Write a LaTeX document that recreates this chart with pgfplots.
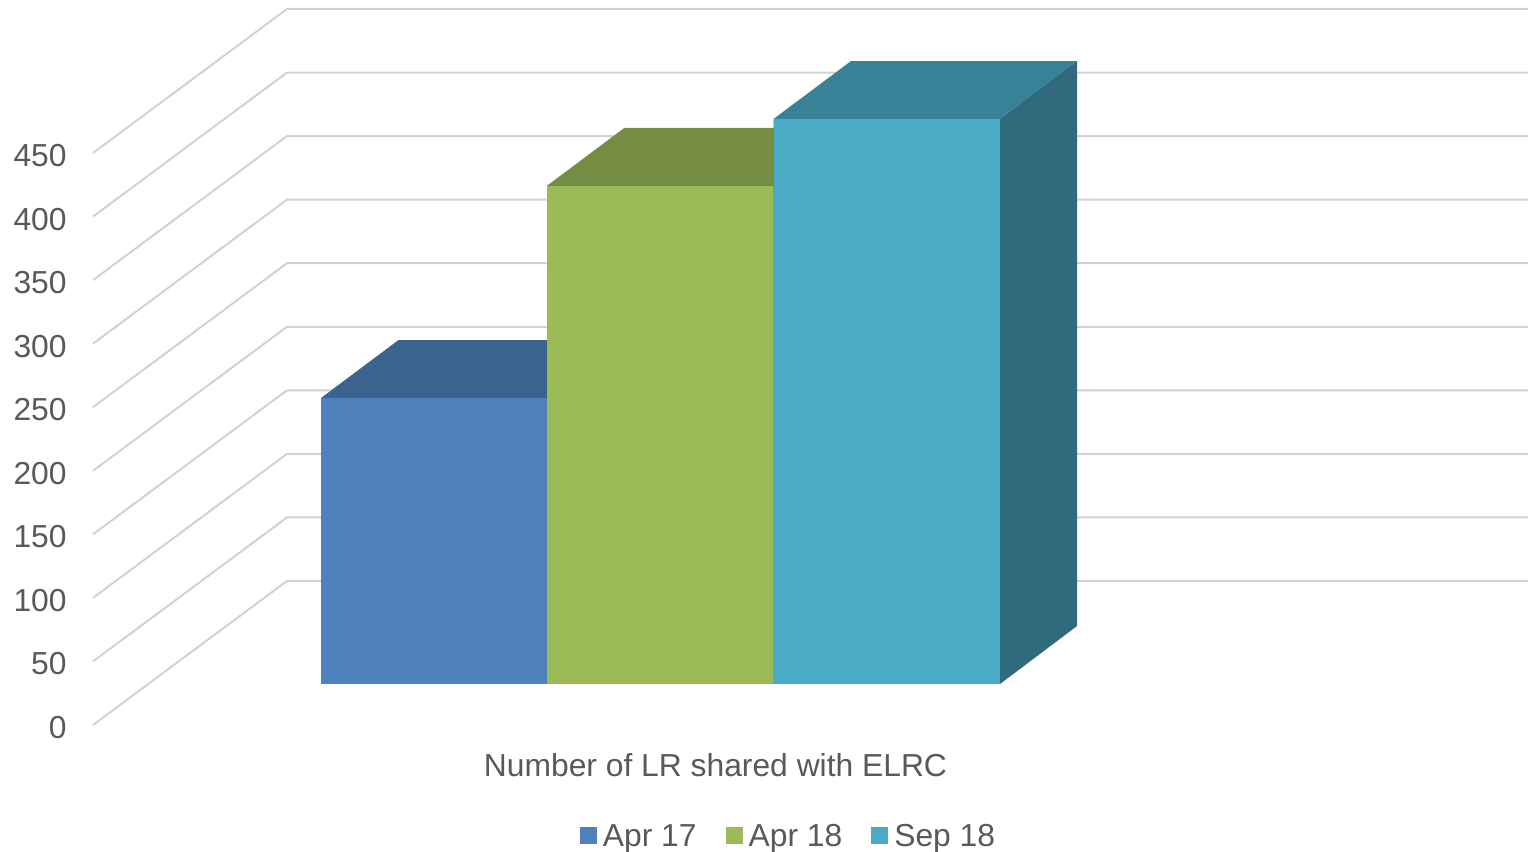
\documentclass[border=0pt]{standalone}
\usepackage{pgfplots}
\pgfplotsset{compat=1.18}
\usepackage{fontspec}
\setmainfont{Liberation Sans}
\definecolor{txt}{HTML}{595959}
\definecolor{gridc}{HTML}{D2D2D2}
\definecolor{bluef}{HTML}{4F81BD}
\definecolor{bluet}{HTML}{3C6290}
\definecolor{greenf}{HTML}{9BBB59}
\definecolor{greent}{HTML}{758D43}
\definecolor{tealf}{HTML}{4AABC6}
\definecolor{tealt}{HTML}{388298}
\definecolor{teals}{HTML}{2F6B7C}
\pgfplotsset{
  sq/.style={ybar, bar width=113.25pt, bar shift=0pt, draw=none, fill=#1,
    legend image code/.code={\fill[#1] (0pt,-3.25pt) rectangle (8.5pt,5.25pt);}},
  wall/.style={gridc, line width=1pt, line join=round, forget plot},
}
\begin{document}
\begin{tikzpicture}
\useasboundingbox (0,0) rectangle (764pt,426pt);
% back walls and value axis
\begin{axis}[
  at={(36pt,63.5pt)}, anchor=south west, scale only axis,
  width=728pt, height=286pt,
  xmin=72, xmax=1528, ymin=0, ymax=450,
  clip=false,
  axis line style={draw=none}, major tick length=0pt,
  ytick={0,50,100,150,200,250,300,350,400,450},
  xtick={715.5}, xticklabels={Number of LR shared with ELRC},
  tick label style={font=\fontsize{15.9}{18}\selectfont, text=txt},
  yticklabel style={inner sep=2.5pt, yshift=-1.25pt},
  xticklabel style={yshift=-10.5pt},
  /pgf/number format/assume math mode=true,
]
\addplot[wall] coordinates {(93,0) (287,113.3) (1528,113.3)};
\addplot[wall] coordinates {(93,50) (287,163.3) (1528,163.3)};
\addplot[wall] coordinates {(93,100) (287,213.3) (1528,213.3)};
\addplot[wall] coordinates {(93,150) (287,263.3) (1528,263.3)};
\addplot[wall] coordinates {(93,200) (287,313.3) (1528,313.3)};
\addplot[wall] coordinates {(93,250) (287,363.3) (1528,363.3)};
\addplot[wall] coordinates {(93,300) (287,413.3) (1528,413.3)};
\addplot[wall] coordinates {(93,350) (287,463.3) (1528,463.3)};
\addplot[wall] coordinates {(93,400) (287,513.3) (1528,513.3)};
\addplot[wall] coordinates {(93,450) (287,563.3) (1528,563.3)};
\end{axis}
% bars: front plane lies lower than the axis plane
\begin{axis}[
  at={(36pt,84pt)}, anchor=south west, scale only axis,
  width=728pt, height=286pt,
  xmin=72, xmax=1528, ymin=0, ymax=450,
  clip=false, hide axis,
  legend columns=3,
  legend style={at={(0.4928,-0.2675)}, anchor=center, draw=none, fill=none,
    font=\fontsize{15.9}{18}\selectfont, text=txt, inner sep=0pt,
    /tikz/column 1/.style={column sep=1pt},
    /tikz/column 2/.style={column sep=12.5pt},
    /tikz/column 3/.style={column sep=1pt},
    /tikz/column 4/.style={column sep=12.5pt},
    /tikz/column 5/.style={column sep=1pt}},
  legend cell align=left,
]
% Apr 17
\addplot[forget plot, fill=bluet, draw=none] coordinates {(321,225) (398.5,270.6) (624.5,270.6) (547,225)} \closedcycle;
\addplot[sq=bluef] coordinates {(434,225)};
\addlegendentry{Apr 17}
% Apr 18
\addplot[forget plot, fill=greent, draw=none] coordinates {(547,392) (624.5,437.6) (851,437.6) (773.5,392)} \closedcycle;
\addplot[sq=greenf] coordinates {(660.25,392)};
\addlegendentry{Apr 18}
% Sep 18
\addplot[forget plot, fill=tealt, draw=none] coordinates {(773.5,444.5) (851,490.1) (1077,490.1) (1000,444.5)} \closedcycle;
\addplot[forget plot, fill=teals, draw=none] coordinates {(1000,0) (1077,45.6) (1077,490.1) (1000,444.5)} \closedcycle;
\addplot[sq=tealf] coordinates {(886.75,444.5)};
\addlegendentry{Sep 18}
\end{axis}
\end{tikzpicture}
\end{document}
